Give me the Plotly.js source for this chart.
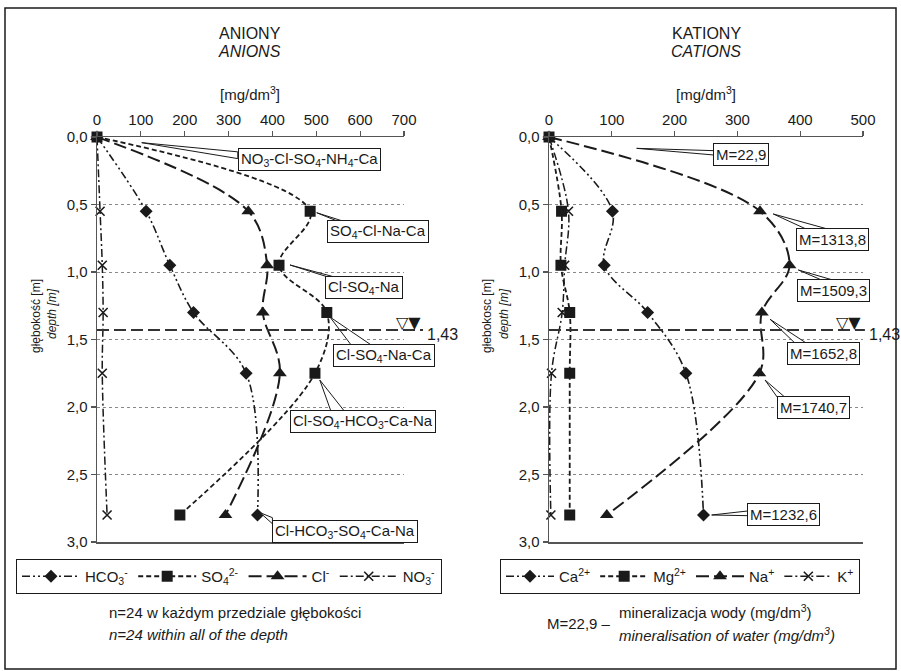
<!DOCTYPE html>
<html>
<head>
<meta charset="utf-8">
<script src="https://cdn.plot.ly/plotly-3.0.1.min.js"></script>
<style>html,body{margin:0;padding:0;background:#fff;}#chart{width:901px;height:671px;}</style>
</head>
<body>
<div id="chart"></div>
<script>
// ---------- data ----------
const depth = [0.0, 0.55, 0.95, 1.3, 1.75, 2.8];
// anions [mg/dm3]
const hco3 = [0, 112, 166, 220, 340, 366];
const so4  = [0, 486, 415, 524, 497, 189];
const cl   = [0, 345, 388, 378, 417, 293];
const no3  = [0, 7, 12, 14, 12, 23];
// cations [mg/dm3]
const ca = [0, 101, 88, 157, 218, 246];
const mg = [0, 20, 19, 33, 33, 33];
const na = [0, 336, 383, 339, 335, 92];
const kk = [0, 31, 25, 21, 4, 3];

const anionNames = ['HCO<sub>3</sub><sup>-</sup>', 'SO<sub>4</sub><sup>2-</sup>', 'Cl<sup>-</sup>', 'NO<sub>3</sub><sup>-</sup>'];
const cationNames = ['Ca<sup>2+</sup>', 'Mg<sup>2+</sup>', 'Na<sup>+</sup>', 'K<sup>+</sup>'];

const waterLevel = 1.43;
const waterLabel = '1,43';

// hydrochemical type labels (anions panel) and mineralisation labels (cations panel)
const typeLabels = [
  'NO<sub>3</sub>-Cl-SO<sub>4</sub>-NH<sub>4</sub>-Ca',
  'SO<sub>4</sub>-Cl-Na-Ca',
  'Cl-SO<sub>4</sub>-Na',
  'Cl-SO<sub>4</sub>-Na-Ca',
  'Cl-SO<sub>4</sub>-HCO<sub>3</sub>-Ca-Na',
  'Cl-HCO<sub>3</sub>-SO<sub>4</sub>-Ca-Na'
];
const mLabels = ['M=22,9', 'M=1313,8', 'M=1509,3', 'M=1652,8', 'M=1740,7', 'M=1232,6'];

// ---------- label placement (callout geometry, data units) ----------
// [boxX, boxY, tipX, tipY, b1x, b1y, b2x, b2y]
const typePlace = [
  [321, 0.170, 102, 0.042, 321, 0.110, 321, 0.160],
  [524, 0.701, 501, 0.561, 561, 0.640, 577, 0.640],
  [520, 1.115, 440, 0.948, 549, 1.060, 568, 1.060],
  [538, 1.619, 531, 1.333, 584, 1.560, 634, 1.560],
  [440, 2.111, 508, 1.800, 536, 2.055, 570, 2.055],
  [398, 2.919, 372, 2.783, 400, 2.820, 400, 2.865]
];
const mPlace = [
  [260.7, 0.133, 139.6, 0.084, 262, 0.101, 262, 0.133],
  [393.3, 0.756, 357, 0.570, 418, 0.700, 458, 0.700],
  [394.4, 1.139, 397, 0.985, 447, 1.085, 471, 1.085],
  [378.5, 1.607, 352, 1.350, 398, 1.555, 419, 1.555],
  [362.6, 2.000, 344, 1.800, 365, 1.937, 378, 1.937],
  [315.8, 2.793, 259, 2.800, 317, 2.770, 317, 2.805]
];

// ---------- styles ----------
const FONT = '"Liberation Sans", Arial, sans-serif';
const INK = '#1a1a1a';
const W = 901, H = 671;
const px = v => v / W;
const py = v => 1 - v / H;

const styles = [
  {dash: '8px,3px,2px,3px,2px,3px', width: 1.6, symbol: 'diamond', size: 10},
  {dash: '5px,3px', width: 1.8, symbol: 'square', size: 11},
  {dash: '13px,5px', width: 2, symbol: 'triangle-up', size: 12},
  {dash: '8px,3px,2px,3px', width: 1.5, symbol: 'x-thin', size: 9}
];

function mkTrace(xs, name, st, xa, ya, leg) {
  return {
    type: 'scatter', mode: 'lines+markers',
    x: xs, y: depth, name: name,
    xaxis: xa, yaxis: ya, legend: leg,
    cliponaxis: false,
    line: {color: INK, width: st.width, dash: st.dash, shape: 'spline', smoothing: 1},
    marker: {symbol: st.symbol, size: st.size, color: INK, line: {color: INK, width: st.symbol === 'x-thin' ? 1.6 : 0}}
  };
}

const anionSeries = [hco3, so4, cl, no3];
const cationSeries = [ca, mg, na, kk];
const traces = [];
anionSeries.forEach((s, i) => traces.push(mkTrace(s, anionNames[i], styles[i], 'x', 'y', 'legend')));
cationSeries.forEach((s, i) => traces.push(mkTrace(s, cationNames[i], styles[i], 'x2', 'y2', 'legend2')));

const yDomain = [py(542), py(137)];

function xAxis(dom, range, anchor) {
  return {
    domain: dom, range: range, anchor: anchor, side: 'top',
    tick0: 0, dtick: 100, ticks: 'outside', ticklen: 5, tickwidth: 1.2, tickcolor: '#555',
    showline: true, linecolor: '#555', linewidth: 1.5, mirror: true,
    showgrid: false, zeroline: false, automargin: false,
    tickfont: {family: FONT, size: 15, color: INK}, fixedrange: true
  };
}
function yAxis(anchor) {
  return {
    domain: yDomain, range: [3, 0], anchor: anchor,
    tick0: 0, dtick: 0.5, tickformat: '.1f', ticks: 'outside', ticklen: 5, tickwidth: 1.2, tickcolor: '#555',
    showline: true, linecolor: '#555', linewidth: 1.5, automargin: false,
    showgrid: true, gridcolor: '#888', griddash: 'dot', gridwidth: 1, zeroline: false,
    tickfont: {family: FONT, size: 15, color: INK}, fixedrange: true
  };
}

const annotations = [];
const shapes = [];

function txt(text, x, y, size, extra) {
  return Object.assign({
    text: text, xref: 'paper', yref: 'paper', x: px(x), y: py(y),
    xanchor: 'center', yanchor: 'middle',
    showarrow: false, font: {family: FONT, size: size, color: INK}
  }, extra || {});
}

// titles
[[250, 'ANIONY', 'ANIONS'], [706, 'KATIONY', 'CATIONS']].forEach(t => {
  annotations.push(txt(t[1], t[0], 33, 16));
  annotations.push(txt('<i>' + t[2] + '</i>', t[0], 52, 16));
  annotations.push(txt('[mg/dm<sup>3</sup>]', t[0], 94, 15));
});
// y titles
annotations.push(txt('głębokość [m]', 36, 316, 12, {textangle: -90}));
annotations.push(txt('<i>depth [m]</i>', 52, 314, 12, {textangle: -90}));
annotations.push(txt('głebokosc [m]', 487, 316, 12, {textangle: -90}));
annotations.push(txt('<i>depth [m]</i>', 504, 314, 12, {textangle: -90}));

// bottom notes
annotations.push(txt('n=24 w każdym przedziale głębokości', 107, 612, 15, {xanchor: 'left'}));
annotations.push(txt('<i>n=24 within all of the depth</i>', 107, 634, 15, {xanchor: 'left'}));
annotations.push(txt('M=22,9 –', 545, 623, 15, {xanchor: 'left'}));
annotations.push(txt('mineralizacja wody (mg/dm<sup>3</sup>)', 617, 611, 15, {xanchor: 'left'}));
annotations.push(txt('<i>mineralisation of water (mg/dm<sup>3</sup>)</i>', 617, 634, 15, {xanchor: 'left'}));

// callouts
function callouts(labels, place, xa, ya) {
  labels.forEach((lab, i) => {
    const p = place[i];
    shapes.push({
      type: 'path', xref: xa, yref: ya, layer: 'above',
      path: `M${p[2]},${p[3]} L${p[4]},${p[5]} L${p[6]},${p[7]} Z`,
      fillcolor: 'white', line: {color: INK, width: 1}
    });
    annotations.push({
      text: lab, xref: xa, yref: ya, x: p[0], y: p[1], xanchor: 'left', yanchor: 'middle',
      showarrow: false, align: 'left', height: 17, valign: 'middle',
      bgcolor: 'white', bordercolor: INK, borderwidth: 1, borderpad: 2,
      font: {family: FONT, size: 15, color: INK}
    });
  });
}
callouts(typeLabels, typePlace, 'x', 'y');
callouts(mLabels, mPlace, 'x2', 'y2');

// water table
[['x', 'y', 1.062, 700, 19, 21], ['x2', 'y2', 1.006, 500, 0, 4]].forEach(w => {
  shapes.push({
    type: 'line', xref: w[0] + ' domain', yref: w[1], x0: 0, x1: w[2], y0: waterLevel, y1: waterLevel,
    line: {color: '#333', width: 2, dash: '12px,5px'}
  });
  annotations.push({
    text: '▽▼', xref: w[0], yref: w[1], x: w[3], y: waterLevel, xanchor: 'right', yanchor: 'bottom',
    xshift: w[4], yshift: -4, showarrow: false,
    font: {family: 'DejaVu Sans', size: 16, color: INK}
  });
  annotations.push({
    text: waterLabel, xref: w[0], yref: w[1], x: w[3], y: waterLevel, xanchor: 'left', yanchor: 'middle',
    xshift: w[5], yshift: -4, showarrow: false,
    font: {family: FONT, size: 16, color: INK}
  });
});

// outer frame
shapes.push({type: 'rect', xref: 'paper', yref: 'paper', x0: px(5), x1: px(896), y0: py(8), y1: py(669),
  line: {color: INK, width: 1.5}, fillcolor: 'rgba(0,0,0,0)', layer: 'below'});

function legendCfg(x, iw) {
  return {
    orientation: 'h', x: px(x), y: py(559), xanchor: 'left', yanchor: 'top',
    bordercolor: INK, borderwidth: 1, bgcolor: 'white',
    font: {family: FONT, size: 15, color: INK}, itemwidth: iw, tracegroupgap: 0
  };
}

const layout = {
  width: W, height: H, autosize: false,
  margin: {l: 0, r: 0, t: 0, b: 0, autoexpand: false},
  paper_bgcolor: 'white', plot_bgcolor: 'white',
  separators: ', ',
  showlegend: true,
  font: {family: FONT, size: 15, color: INK},
  xaxis: xAxis([px(97), px(404)], [0, 700], 'y'),
  yaxis: yAxis('x'),
  xaxis2: xAxis([px(549), px(863)], [0, 500], 'y2'),
  yaxis2: yAxis('x2'),
  legend: legendCfg(16, 58),
  legend2: legendCfg(500, 48),
  annotations: annotations,
  shapes: shapes
};

Plotly.newPlot('chart', traces, layout, {displayModeBar: false, staticPlot: true});
</script>
</body>
</html>
